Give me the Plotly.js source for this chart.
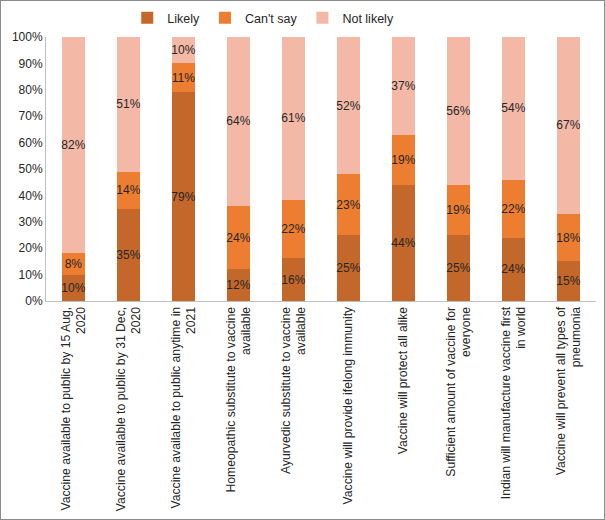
<!DOCTYPE html>
<html>
<head>
<meta charset="utf-8">
<script src="https://cdn.plot.ly/plotly-3.0.1.min.js"></script>
<style>
  html, body { margin: 0; padding: 0; background: #fff; }
  #chart { width: 603px; height: 518px; border: 1px solid #8c8c8c; }
</style>
</head>
<body>
<div id="chart"></div>
<script>
const categories = [
  "Vaccine available to public by 15 Aug,<br>2020",
  "Vaccine available to public by 31 Dec,<br>2020",
  "Vaccine available to public anytime in<br>2021",
  "Homeopathic substitute to vaccine<br>available",
  "Ayurvedic substitute to vaccine<br>available",
  "Vaccine will provide ifelong immunity",
  "Vaccine will protect all alike",
  "Sufficient amount of vaccine for<br>everyone",
  "Indian will manufacture vaccine first<br>in world",
  "Vaccine will prevent all types of<br>pneumonia"
];
const likely    = [10, 35, 79, 12, 16, 25, 44, 25, 24, 15];
const cantSay   = [8, 14, 11, 24, 22, 23, 19, 19, 22, 18];
const notLikely = [82, 51, 10, 64, 61, 52, 37, 56, 54, 67];
const seriesNames = ["Likely", "Can't say", "Not likely"];
const colors = ["#C4672A", "#ED7D31", "#F4B9A6"];
const yTickVals = [0, 10, 20, 30, 40, 50, 60, 70, 80, 90, 100];

const series = [likely, cantSay, notLikely];
const traces = series.map((vals, i) => ({
  type: 'bar',
  name: seriesNames[i],
  x: categories,
  y: vals,
  text: vals.map(v => v + '%'),
  textposition: 'inside',
  insidetextanchor: 'middle',
  textangle: 0,
  constraintext: 'none',
  textfont: { family: 'Liberation Sans, Arial, sans-serif', size: 12, color: '#262626' },
  marker: { color: colors[i], line: { width: 0 } },
  hoverinfo: 'none'
}));

const layout = {
  width: 603,
  height: 518,
  margin: { l: 45, r: 8, t: 36, b: 218 },
  barmode: 'stack',
  barnorm: 'percent',
  bargap: 0.58,
  paper_bgcolor: '#ffffff',
  plot_bgcolor: '#ffffff',
  font: { family: 'Liberation Sans, Arial, sans-serif', size: 12, color: '#262626' },
  showlegend: true,
  legend: {
    orientation: 'h',
    x: 0.395, xanchor: 'center', xref: 'paper',
    y: 0.967, yanchor: 'middle', yref: 'container',
    font: { size: 12.5, color: '#262626' },
    itemwidth: 30,
    traceorder: 'normal',
    bgcolor: 'rgba(0,0,0,0)'
  },
  xaxis: {
    type: 'category',
    tickangle: -90,
    showline: true,
    linecolor: '#bfbfbf',
    linewidth: 1,
    showgrid: false,
    ticks: '',
    automargin: false,
    tickfont: { size: 12.2, color: '#262626' }
  },
  yaxis: {
    range: [0, 100],
    tickvals: yTickVals,
    ticktext: yTickVals.map(v => v + '%'),
    showline: true,
    linecolor: '#bfbfbf',
    linewidth: 1,
    showgrid: false,
    zeroline: false,
    ticks: '',
    automargin: false,
    tickfont: { size: 12, color: '#262626' }
  }
};

Plotly.newPlot('chart', traces, layout, { staticPlot: true, displayModeBar: false });
</script>
</body>
</html>
